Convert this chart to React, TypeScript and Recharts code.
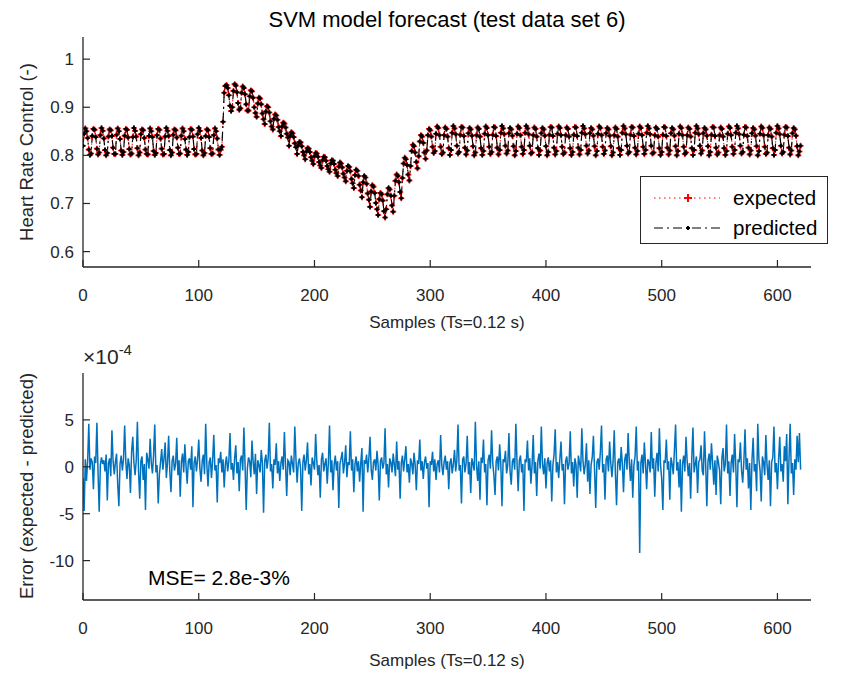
import React from "react";
import { LineChart, Line, XAxis, YAxis, Legend } from "recharts";

const AX = "#262626";
const FONT = "'Liberation Sans', Arial, Helvetica, sans-serif";

const xTicks = [0, 100, 200, 300, 400, 500, 600];
const hrTicks = [0.6, 0.7, 0.8, 0.9, 1];
const errTicks = [-10, -5, 0, 5];

// heart rate control, one value per sample (expected ~ predicted at this scale)
const heartRate = [
  0.820, 0.845, 0.856, 0.850, 0.836, 0.812, 0.801,
  0.804, 0.840, 0.855, 0.853, 0.838, 0.814, 0.802,
  0.806, 0.842, 0.857, 0.851, 0.835, 0.811, 0.800,
  0.805, 0.839, 0.854, 0.852, 0.840, 0.816, 0.803,
  0.803, 0.843, 0.856, 0.850, 0.834, 0.810, 0.801,
  0.807, 0.841, 0.855, 0.853, 0.837, 0.813, 0.802,
  0.804, 0.838, 0.857, 0.851, 0.839, 0.815, 0.800,
  0.806, 0.844, 0.854, 0.852, 0.836, 0.812, 0.803,
  0.802, 0.840, 0.856, 0.850, 0.838, 0.809, 0.801,
  0.805, 0.842, 0.855, 0.853, 0.835, 0.814, 0.802,
  0.803, 0.839, 0.857, 0.851, 0.840, 0.811, 0.800,
  0.806, 0.843, 0.854, 0.852, 0.837, 0.816, 0.803,
  0.804, 0.841, 0.856, 0.850, 0.834, 0.812, 0.801,
  0.807, 0.838, 0.855, 0.853, 0.839, 0.813, 0.802,
  0.803, 0.844, 0.857, 0.851, 0.836, 0.810, 0.800,
  0.805, 0.840, 0.854, 0.852, 0.838, 0.815, 0.803,
  0.804, 0.842, 0.856, 0.850, 0.835, 0.812, 0.801,
  0.812, 0.818, 0.870,
  0.930, 0.944, 0.946, 0.940, 0.925, 0.903, 0.892,
  0.900, 0.934, 0.948, 0.945, 0.931, 0.909, 0.895,
  0.898, 0.930, 0.943, 0.940, 0.927, 0.906, 0.893,
  0.893, 0.923, 0.935, 0.933, 0.920, 0.900, 0.888,
  0.880, 0.908, 0.920, 0.918, 0.906, 0.887, 0.875,
  0.865, 0.891, 0.902, 0.900, 0.889, 0.871, 0.860,
  0.854, 0.876, 0.885, 0.883, 0.874, 0.859, 0.850,
  0.840, 0.860, 0.868, 0.866, 0.858, 0.845, 0.837,
  0.820, 0.840, 0.848, 0.846, 0.838, 0.825, 0.817,
  0.803, 0.821, 0.828, 0.827, 0.819, 0.807, 0.800,
  0.792, 0.808, 0.815, 0.814, 0.807, 0.796, 0.789,
  0.782, 0.798, 0.805, 0.804, 0.797, 0.786, 0.779,
  0.774, 0.790, 0.797, 0.796, 0.789, 0.778, 0.771,
  0.766, 0.783, 0.790, 0.789, 0.782, 0.770, 0.763,
  0.757, 0.777, 0.785, 0.783, 0.775, 0.762, 0.754,
  0.746, 0.768, 0.778, 0.776, 0.767, 0.751, 0.742,
  0.732, 0.759, 0.770, 0.768, 0.757, 0.739, 0.727,
  0.713, 0.744, 0.757, 0.754, 0.741, 0.721, 0.708,
  0.693, 0.725, 0.738, 0.735, 0.722, 0.701, 0.688,
  0.676, 0.709, 0.722, 0.719, 0.706, 0.684, 0.671,
  0.688, 0.719, 0.732, 0.729, 0.716, 0.696, 0.683,
  0.716, 0.747, 0.760, 0.757, 0.744, 0.724, 0.711,
  0.753, 0.783, 0.795, 0.792, 0.780, 0.760, 0.748,
  0.778, 0.809, 0.822, 0.819, 0.806, 0.786, 0.773,
  0.798, 0.829, 0.842, 0.839, 0.826, 0.806, 0.793,
  0.810, 0.842, 0.855, 0.852, 0.839, 0.818, 0.805,
  0.809, 0.845, 0.860, 0.857, 0.842, 0.818, 0.803,
  0.806, 0.842, 0.858, 0.855, 0.839, 0.815, 0.801,
  0.811, 0.847, 0.861, 0.856, 0.844, 0.820, 0.804,
  0.807, 0.843, 0.859, 0.858, 0.840, 0.816, 0.802,
  0.810, 0.846, 0.857, 0.854, 0.841, 0.819, 0.800,
  0.806, 0.842, 0.858, 0.855, 0.839, 0.815, 0.801,
  0.809, 0.845, 0.860, 0.857, 0.842, 0.818, 0.803,
  0.807, 0.843, 0.859, 0.858, 0.840, 0.816, 0.802,
  0.811, 0.847, 0.861, 0.856, 0.844, 0.820, 0.804,
  0.810, 0.846, 0.857, 0.854, 0.841, 0.819, 0.800,
  0.809, 0.845, 0.860, 0.857, 0.842, 0.818, 0.803,
  0.811, 0.847, 0.861, 0.856, 0.844, 0.820, 0.804,
  0.806, 0.842, 0.858, 0.855, 0.839, 0.815, 0.801,
  0.810, 0.846, 0.857, 0.854, 0.841, 0.819, 0.800,
  0.807, 0.843, 0.859, 0.858, 0.840, 0.816, 0.802,
  0.809, 0.845, 0.860, 0.857, 0.842, 0.818, 0.803,
  0.806, 0.842, 0.858, 0.855, 0.839, 0.815, 0.801,
  0.807, 0.843, 0.859, 0.858, 0.840, 0.816, 0.802,
  0.811, 0.847, 0.861, 0.856, 0.844, 0.820, 0.804,
  0.810, 0.846, 0.857, 0.854, 0.841, 0.819, 0.800,
  0.809, 0.845, 0.860, 0.857, 0.842, 0.818, 0.803,
  0.810, 0.846, 0.857, 0.854, 0.841, 0.819, 0.800,
  0.806, 0.842, 0.858, 0.855, 0.839, 0.815, 0.801,
  0.811, 0.847, 0.861, 0.856, 0.844, 0.820, 0.804,
  0.807, 0.843, 0.859, 0.858, 0.840, 0.816, 0.802,
  0.809, 0.845, 0.860, 0.857, 0.842, 0.818, 0.803,
  0.811, 0.847, 0.861, 0.856, 0.844, 0.820, 0.804,
  0.806, 0.842, 0.858, 0.855, 0.839, 0.815, 0.801,
  0.807, 0.843, 0.859, 0.858, 0.840, 0.816, 0.802,
  0.810, 0.846, 0.857, 0.854, 0.841, 0.819, 0.800,
  0.809, 0.845, 0.860, 0.857, 0.842, 0.818, 0.803,
  0.806, 0.842, 0.858, 0.855, 0.839, 0.815, 0.801,
  0.811, 0.847, 0.861, 0.856, 0.844, 0.820, 0.804,
  0.810, 0.846, 0.857, 0.854, 0.841, 0.819, 0.800,
  0.807, 0.843, 0.859, 0.858, 0.840, 0.816, 0.802,
  0.806, 0.842, 0.858, 0.855, 0.839, 0.815, 0.801,
  0.809, 0.845, 0.860, 0.857, 0.842, 0.818, 0.803,
  0.811, 0.847, 0.861, 0.856, 0.844, 0.820, 0.804,
  0.807, 0.843, 0.859, 0.858, 0.840, 0.816, 0.802,
  0.810, 0.846, 0.857, 0.854, 0.841, 0.819, 0.800,
  0.809, 0.845, 0.860, 0.857, 0.842, 0.818, 0.803,
  0.806, 0.842, 0.858, 0.855, 0.839, 0.815, 0.801,
  0.811, 0.847, 0.861, 0.856, 0.844, 0.820, 0.804,
  0.807, 0.843, 0.859, 0.858, 0.840, 0.816, 0.802,
  0.810, 0.846, 0.857, 0.854, 0.841, 0.819, 0.800,
  0.808, 0.820,
];

// expected - predicted, in units of 1e-4
const errorE4 = [
  -1.2, -4.7, 0.8, -1.5, 0.6, 4.6, -0.3, 0.9, 0.5, -2.4,
  1.1, 0.4, 4.7, -0.6, -4.8, 0.2, 1.0, 0.3, 0.7, -0.5,
  1.3, -3.6, 0.4, 0.9, -1.0, 3.9, 0.6, -0.8, 0.5, 1.4,
  -1.9, -4.2, 0.3, 1.2, -0.4, 0.8, 4.4, 0.5, -1.3, 0.9,
  0.2, -2.8, 1.6, 3.2, 0.4, -0.9, 0.7, 4.8, -0.5, -3.4,
  0.6, 1.1, -1.4, 0.3, -4.6, 1.5, 0.8, -0.2, 3.0, 0.4,
  -0.7, 1.3, 4.5, -0.6, 0.2, -3.9, -0.8, 0.5, 1.9, -0.3,
  0.9, 2.6, -1.2, 0.4, 3.3, -0.5, -2.7, 0.6, 1.2, -0.4,
  0.3, 3.1, -0.9, 0.7, -3.2, 0.5, 1.4, -0.6, 2.4, 0.1,
  -1.8, 0.6, 0.9, -0.3, 2.2, -4.3, 0.4, 1.1, -0.5, 0.8,
  2.9, -0.2, -1.6, 0.6, 1.3, -0.8, 4.6, 0.3, -2.1, 0.5,
  1.0, -1.2, 0.7, 3.4, -0.4, 0.2, -3.8, 0.9, 0.4, 1.6,
  -0.6, 0.8, -2.2, 0.3, 1.1, -0.5, 0.6, 3.6, -0.3, 0.4,
  -1.4, 0.9, 2.3, -0.7, 0.5, -2.6, 0.8, 1.2, -0.4, 4.2,
  0.3, -4.6, -0.2, 1.0, 0.6, -1.1, 2.8, 0.5, -0.8, 1.4,
  -2.9, 0.7, 0.2, -0.6, 1.8, 0.4, -4.9, 0.6, 1.3, -0.2,
  0.9, 4.7, -0.5, 0.3, -2.3, 0.8, 0.2, 2.5, -0.7, 0.6,
  -1.5, 0.4, 1.1, -0.3, 3.7, 0.2, -3.1, 0.7, 0.5, -0.9,
  1.2, 0.3, -0.6, 4.3, 0.8, -1.7, 0.4, 0.9, -0.2, -4.7,
  0.5, 1.3, -0.4, 0.7, 2.6, -0.8, 0.3, -2.0, 1.0, 0.4,
  -0.3, 3.5, 0.6, -0.9, 0.2, -3.3, 0.8, 1.5, -0.5, 0.3,
  0.9, -1.8, 0.4, 4.4, -0.6, 0.7, -2.5, 0.2, 1.2, -0.4,
  0.6, -4.4, 0.3, 0.9, 1.6, -0.7, 0.4, 2.3, -1.1, 0.5,
  0.2, 3.8, -0.4, 0.8, -2.7, 0.3, 1.1, -0.5, 0.6, -1.6,
  0.4, 2.0, -4.8, 0.7, 0.3, 1.3, -0.6, 0.9, 3.2, -0.3,
  -1.4, 0.5, 0.8, -0.4, 1.7, 0.2, -3.6, 0.6, 1.0, -0.2,
  0.4, 4.1, -0.8, 0.3, -2.2, 0.9, 0.5, -0.6, 1.4, 0.2,
  -1.0, 2.7, -0.3, 0.6, -3.4, 0.4, 1.2, -0.5, 0.8, 2.2,
  -0.6, 0.3, -1.7, 0.9, 0.4, -0.8, 1.5, 0.2, -2.5, 0.7,
  0.3, 2.9, -0.4, 0.6, -1.3, 0.5, 1.1, -0.2, 0.4, -4.3,
  0.6, 0.2, 1.6, -0.5, 0.8, -1.4, 0.3, 0.7, -0.6, 3.4,
  0.2, -0.9, 0.5, 1.2, -0.3, 0.6, -2.4, 0.4, 0.9, -0.7,
  0.3, 1.8, -0.5, 0.7, 4.5, -0.4, 0.2, -3.9, 0.8, 1.1,
  -0.6, 0.4, 3.3, -0.8, 0.5, -2.8, 0.9, 0.3, -0.4, 4.8,
  0.2, -1.5, 0.6, -3.5, 1.0, 0.4, 2.9, -0.6, 0.3, -4.1,
  0.7, 1.3, -0.2, 3.9, 0.5, -0.9, -3.0, 0.6, 1.1, -0.4,
  2.4, 0.3, -4.2, 0.8, 0.5, 1.7, -0.7, 0.2, 3.6, -0.5,
  -1.9, 0.6, 0.9, -0.3, 4.6, 0.4, -2.6, 0.7, 1.2, -0.6,
  0.3, -4.7, 0.8, 0.5, 2.8, -0.4, 0.9, -1.8, 0.2, 3.4,
  -0.7, 0.5, -3.1, 0.6, 1.4, -0.2, 4.3, 0.3, -0.8, 0.9,
  -2.3, 0.4, 1.0, -0.5, 0.7, -3.7, 0.2, 1.3, 4.0, -0.6,
  0.5, -1.2, 0.8, 2.7, -0.4, 0.3, -4.0, 0.6, 1.1, -0.3,
  0.4, 3.8, -0.7, 0.5, -2.1, 0.9, 0.2, -3.3, 1.2, 0.4,
  -0.5, 4.1, 0.6, -0.8, 0.3, 2.5, -1.6, 0.7, -2.9, 0.2,
  1.0, 3.3, -0.4, -4.4, 0.5, 0.9, -0.3, 1.6, 4.4, -0.6,
  0.3, -3.5, 0.8, 1.2, -0.5, 2.7, 0.4, -1.1, 0.6, 3.9,
  -0.8, -4.1, 0.5, 0.9, -0.4, 2.1, 0.3, -2.7, 0.7, 1.4,
  -0.3, 3.6, 0.5, -1.5, 0.8, -3.3, 0.2, 1.1, 4.3, -0.4,
  0.6, -9.2, 0.4, 1.3, -0.7, 2.6, 0.3, -2.4, 0.8, 0.5,
  -0.6, 3.7, -0.2, 0.9, -3.2, 0.4, 1.5, -0.5, 4.1, 0.2,
  -1.3, -4.6, 0.7, 0.4, 2.9, -0.3, 0.6, -3.5, 1.0, 0.3,
  -0.8, 1.8, 4.5, -0.4, 0.5, -2.2, 0.8, -4.8, 0.3, 1.2,
  -0.5, 3.2, 0.6, -1.0, 0.4, -3.4, 0.9, 4.2, -0.6, 0.3,
  1.1, -2.8, 0.5, 0.8, 2.3, -0.4, -0.9, 3.8, 0.2, -4.2,
  0.6, 1.4, -0.3, 2.5, 0.4, -1.9, 0.7, -3.0, 1.2, 0.5,
  -0.4, -4.0, 0.9, 2.0, -0.5, 0.3, 4.5, -0.7, 0.6, -3.1,
  0.4, 1.3, -0.6, 3.5, 0.2, -4.3, 0.8, 0.5, 2.6, -0.4,
  -1.7, 0.6, 4.0, -0.3, 0.9, -2.3, 0.4, -4.6, 0.7, 3.1,
  -0.5, 0.3, -2.6, 4.6, 0.8, -0.4, -3.7, 1.1, 0.5, -0.9,
  3.4, 0.2, -1.4, 0.7, -4.2, 0.5, 1.0, 4.3, -0.6, 0.4,
  -2.4, 0.8, 3.2, -0.5, 0.3, -1.6, 2.2, 0.6, 3.5, -4.0,
  0.9, 4.6, -0.7, 0.4, -3.0, 0.8, -0.3, 3.3, 0.5, 3.6,
  -0.3,
];

const topData = heartRate.map((v, i) => ({ n: i, expected: v, predicted: v }));
const errData = errorE4.map((v, i) => ({ n: i, err: v }));

const plus = (color: string, r: number, w: number) => (p: any) => {
  const k = `${color}-${p.index}`;
  if (p.cx == null || p.cy == null) return <g key={k} />;
  return (
    <path
      key={k}
      d={`M${p.cx - r},${p.cy}H${p.cx + r}M${p.cx},${p.cy - r}V${p.cy + r}`}
      stroke={color}
      strokeWidth={w}
      fill="none"
    />
  );
};

const XTick = (props: any) => {
  const { x, y, payload } = props;
  return (
    <g>
      <line x1={x} x2={x} y1={y} y2={y - 7} stroke={AX} strokeWidth={1.2} />
      <text x={x} y={y + 34} textAnchor="middle" fontSize={17} fill={AX} fontFamily={FONT}>
        {payload.value}
      </text>
    </g>
  );
};

const XTickTop = (props: any) => {
  const { x, y } = props;
  return <line x1={x} x2={x} y1={y} y2={y + 7} stroke={AX} strokeWidth={1.2} />;
};

const YTick = (props: any) => {
  const { x, y, payload } = props;
  return (
    <g>
      <line x1={x} x2={x + 7} y1={y} y2={y} stroke={AX} strokeWidth={1.2} />
      <text x={x - 9} y={y + 6} textAnchor="end" fontSize={17} fill={AX} fontFamily={FONT}>
        {payload.value}
      </text>
    </g>
  );
};

const YTickRight = (props: any) => {
  const { x, y } = props;
  return <line x1={x} x2={x - 7} y1={y} y2={y} stroke={AX} strokeWidth={1.2} />;
};

const LegendBox = () => (
  <svg width={188} height={68} style={{ display: "block" }}>
    <rect x={0.5} y={0.5} width={187} height={67} fill="#fff" stroke={AX} strokeWidth={1} />
    <line x1={14} x2={80} y1={22} y2={22} stroke="#ff0000" strokeDasharray="1.5 3.5" strokeWidth={1.2} />
    <path d="M44,22H52M48,18V26" stroke="#ff0000" strokeWidth={2} />
    <text x={93} y={29} fontSize={20.5} fill="#000" fontFamily={FONT}>expected</text>
    <line x1={14} x2={80} y1={52} y2={52} stroke="#000" strokeDasharray="9 4 2 4" strokeWidth={1.2} />
    <path d="M46,52H50M48,50V54" stroke="#000" strokeWidth={2} />
    <text x={93} y={59} fontSize={20.5} fill="#000" fontFamily={FONT}>predicted</text>
  </svg>
);

const axisLine = { stroke: AX, strokeWidth: 1.3 };

export default function App() {
  return (
    <div style={{ position: "absolute", left: 0, top: 0, width: 843, height: 673, background: "#fff", fontFamily: FONT }}>
      <div style={{ position: "absolute", left: 0, top: 0 }}>
        <LineChart width={843} height={336} data={topData} margin={{ top: 37, right: 32, bottom: 0, left: 0 }}>
          <XAxis dataKey="n" type="number" domain={[0, 629]} ticks={xTicks} height={69} tickSize={0} tickMargin={0} tickLine={false} tick={<XTick />} axisLine={axisLine} allowDataOverflow />
          <XAxis xAxisId="top" orientation="top" dataKey="n" type="number" domain={[0, 629]} ticks={xTicks} height={0} tickSize={0} tickMargin={0} tickLine={false} tick={<XTickTop />} axisLine={axisLine} allowDataOverflow />
          <YAxis type="number" domain={[0.568, 1.046]} ticks={hrTicks} width={83} tickSize={0} tickMargin={0} tickLine={false} tick={<YTick />} axisLine={axisLine} allowDataOverflow />
          <YAxis yAxisId="right" orientation="right" type="number" domain={[0.568, 1.046]} ticks={hrTicks} width={0} tickSize={0} tickMargin={0} tickLine={false} tick={<YTickRight />} axisLine={axisLine} allowDataOverflow />
          <Legend layout="vertical" align="center" verticalAlign="middle" content={<LegendBox />} wrapperStyle={{ left: 640, top: 176, width: 188, height: 68 }} />
          <Line type="linear" dataKey="expected" name="expected" stroke="#ff0000" strokeWidth={1} strokeDasharray="1.5 3.5" dot={plus("#ff0000", 3, 1.6)} activeDot={false} isAnimationActive={false} />
          <Line type="linear" dataKey="predicted" name="predicted" stroke="#000000" strokeWidth={1.2} strokeDasharray="9 4 2 4" dot={plus("#000000", 2, 2)} activeDot={false} isAnimationActive={false} />
        </LineChart>
      </div>
      <div style={{ position: "absolute", left: 0, top: 336 }}>
        <LineChart width={843} height={337} data={errData} margin={{ top: 37, right: 32, bottom: 0, left: 0 }}>
          <XAxis dataKey="n" type="number" domain={[0, 629]} ticks={xTicks} height={73} tickSize={0} tickMargin={0} tickLine={false} tick={<XTick />} axisLine={axisLine} allowDataOverflow />
          <XAxis xAxisId="top" orientation="top" dataKey="n" type="number" domain={[0, 629]} ticks={xTicks} height={0} tickSize={0} tickMargin={0} tickLine={false} tick={<XTickTop />} axisLine={axisLine} allowDataOverflow />
          <YAxis type="number" domain={[-14.2, 10]} ticks={errTicks} width={83} tickSize={0} tickMargin={0} tickLine={false} tick={<YTick />} axisLine={axisLine} allowDataOverflow />
          <YAxis yAxisId="right" orientation="right" type="number" domain={[-14.2, 10]} ticks={errTicks} width={0} tickSize={0} tickMargin={0} tickLine={false} tick={<YTickRight />} axisLine={axisLine} allowDataOverflow />
          <Line type="linear" dataKey="err" stroke="#0072BD" strokeWidth={1.5} dot={false} activeDot={false} isAnimationActive={false} />
        </LineChart>
      </div>
      <svg width={843} height={673} style={{ position: "absolute", left: 0, top: 0, pointerEvents: "none" }} fontFamily={FONT} fill={AX}>
        <text x={447} y={27} textAnchor="middle" fontSize={22} fill="#000">SVM model forecast (test data set 6)</text>
        <text x={447} y={328} textAnchor="middle" fontSize={17}>Samples (Ts=0.12 s)</text>
        <text transform="translate(33,152) rotate(-90)" textAnchor="middle" fontSize={18.5}>Heart Rate Control (-)</text>
        <text x={83} y={364} fontSize={21}>
          ×10<tspan dy={-9} fontSize={15}>-4</tspan>
        </text>
        <text x={148} y={585} fontSize={21} fill="#000">MSE= 2.8e-3%</text>
        <text x={447} y={666} textAnchor="middle" fontSize={17}>Samples (Ts=0.12 s)</text>
        <text transform="translate(33,486) rotate(-90)" textAnchor="middle" fontSize={18.5}>Error (expected - predicted)</text>
      </svg>
    </div>
  );
}
